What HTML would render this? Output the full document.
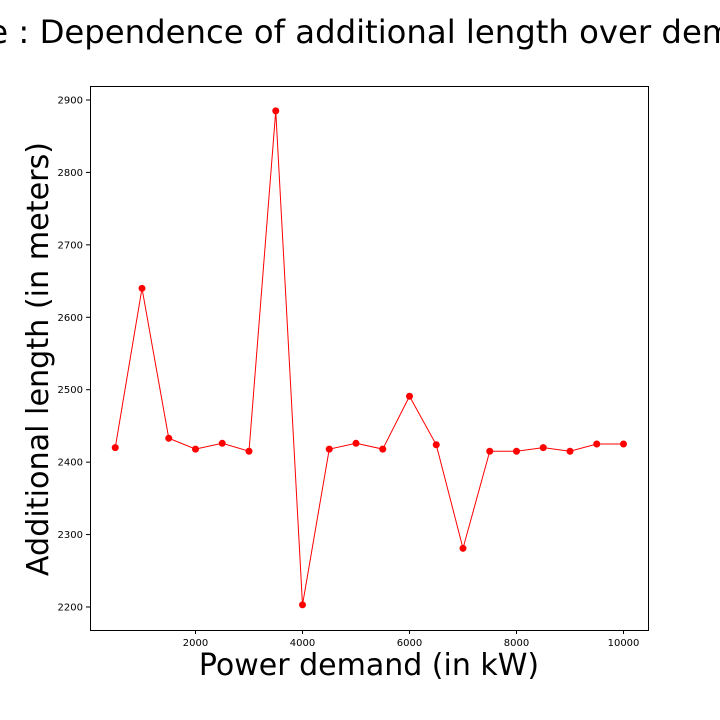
<!DOCTYPE html>
<html><head><meta charset="utf-8"><style>
html,body{margin:0;padding:0;background:#fff;}
svg{display:block;font-family:"DejaVu Sans","Liberation Sans",sans-serif;}
</style></head><body>
<svg id="chart" width="720" height="720" viewBox="0 0 720 720">
<text x="364" y="43" text-anchor="middle" font-size="32.3">Type : Dependence of additional length over demand</text>
<rect x="90.5" y="86.5" width="558" height="544" fill="none" stroke="#000" stroke-width="1"/>
<g id="xt"></g>
<g id="yt"></g>
<g id="series"></g>
<text x="369" y="675" text-anchor="middle" font-size="30">Power demand (in kW)</text>
<text transform="translate(48,359) rotate(-90)" text-anchor="middle" font-size="30.2">Additional length (in meters)</text>
</svg>
<script>
const demands=[500,1000,1500,2000,2500,3000,3500,4000,4500,5000,5500,6000,6500,7000,7500,8000,8500,9000,9500,10000];
const lengths=[2420,2640,2433,2418,2426,2415,2885,2203,2418,2426,2418,2491,2424,2281,2415,2415,2420,2415,2425,2425];
const xTicks=[2000,4000,6000,8000,10000];
const yTicks=[2200,2300,2400,2500,2600,2700,2800,2900];
const NS="http://www.w3.org/2000/svg";
function sx(v){return 195.5+(v-2000)*(428/8000);}
function sy(v){return 100+(2900-v)*(507/700);}
function mk(tag,attrs,parent){const e=document.createElementNS(NS,tag);for(const k in attrs)e.setAttribute(k,attrs[k]);parent.appendChild(e);return e;}
const xt=document.getElementById('xt'),yt=document.getElementById('yt'),sg=document.getElementById('series');
xTicks.forEach(v=>{
  const l=mk('line',{x1:sx(v),x2:sx(v),y1:630,y2:634,stroke:'#000'},xt);
  
  
  const t=mk('text',{x:sx(v),y:646,'text-anchor':'middle','font-size':10},xt);
  t.textContent=v;
  
  
});
yTicks.forEach(v=>{
  const l=mk('line',{x1:86,x2:90,y1:sy(v),y2:sy(v),stroke:'#000'},yt);
  
  
  const t=mk('text',{x:83,y:sy(v)+3.5,'text-anchor':'end','font-size':10},yt);
  t.textContent=v;
  
  
});
const pts=demands.map((d,i)=>sx(d)+','+sy(lengths[i])).join(' ');
const pl=mk('polyline',{points:pts,fill:'none',stroke:'#f00','stroke-width':1},sg);


demands.forEach((d,i)=>{
  const c=mk('circle',{cx:sx(d),cy:sy(lengths[i]),r:3.5,fill:'#f00'},sg);
  
  
});
</script>
</body></html>
